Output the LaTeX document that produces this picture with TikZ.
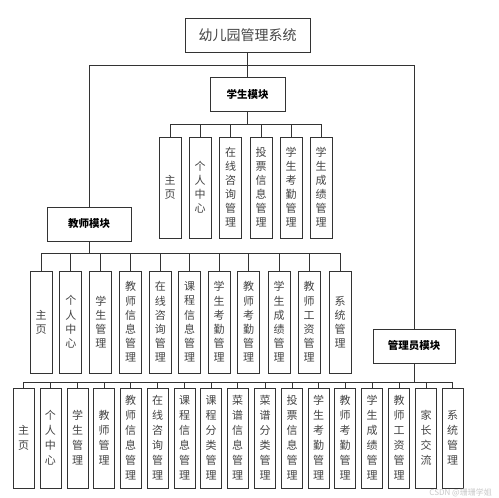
\documentclass[tikz,border=0pt]{standalone}
\usepackage{fontspec}
\newfontfamily\cjk{Noto Sans CJK SC}
\definecolor{ln}{HTML}{333333}
\definecolor{tx}{HTML}{444444}
\definecolor{wm}{HTML}{C8C8C8}
\begin{document}
\begin{tikzpicture}[x=1pt,y=-1pt,
  box/.style={draw=ln, line width=0.9pt, inner sep=0pt, align=center, text=tx},
  rootbox/.style={box, minimum width=125pt, minimum height=34pt, font=\cjk\fontsize{14}{16}\selectfont},
  modbox/.style={box, minimum height=34pt, text=black, font=\cjk\bfseries\fontsize{10.5}{12}\selectfont},
  leafA/.style={box, minimum width=22pt, minimum height=101pt, font=\cjk\fontsize{11}{14}\selectfont},
  leafB/.style={box, minimum width=22pt, minimum height=102pt, font=\cjk\fontsize{11}{14.2}\selectfont},
  leafC/.style={box, minimum width=21pt, minimum height=100pt, font=\cjk\fontsize{11}{15}\selectfont},
  conn/.style={draw=ln, line width=0.9pt}]
\useasboundingbox (0,0) rectangle (499,498);
\fill[white] (0,0) rectangle (499,498);

% root and modules
\node[rootbox] (root) at (247.5,35) {幼儿园管理系统};
\node[modbox, minimum width=75pt] (stu) at (247.5,94.5) {学生模块};
\node[modbox, minimum width=84pt] (tea) at (89,224) {教师模块};
\node[modbox, minimum width=82pt] (adm) at (414,346) {管理员模块};

\coordinate (topbar) at (0,65);
\draw[conn] (root.south) -- (stu.north);
\draw[conn] (tea.north) -- (tea.north |- topbar) -- (adm.north |- topbar) -- (adm.north);

% student leaves
\foreach \i/\x/\t in {1/170/主\\页, 2/200/个\\人\\中\\心, 3/230.5/在\\线\\咨\\询\\管\\理, 4/261/投\\票\\信\\息\\管\\理, 5/291/学\\生\\考\\勤\\管\\理, 6/321/学\\生\\成\\绩\\管\\理}
  \node[leafA] (s\i) at (\x,187.5) {\t};
\coordinate (sbar) at (0,124);
\draw[conn] (stu.south) -- (stu.south |- sbar);
\draw[conn] (s1.north |- sbar) -- (s6.north |- sbar);
\foreach \i in {1,...,6} \draw[conn] (s\i.north) -- (s\i.north |- sbar);

% teacher leaves
\foreach \i/\x/\t in {1/41/主\\页, 2/70.9/个\\人\\中\\心, 3/100.8/学\\生\\管\\理, 4/130.7/教\\师\\信\\息\\管\\理, 5/160.3/在\\线\\咨\\询\\管\\理, 6/189.5/课\\程\\信\\息\\管\\理, 7/219/学\\生\\考\\勤\\管\\理, 8/248.5/教\\师\\考\\勤\\管\\理, 9/279/学\\生\\成\\绩\\管\\理, 10/309/教\\师\\工\\资\\管\\理, 11/340/系\\统\\管\\理}
  \node[leafB] (t\i) at (\x,322) {\t};
\coordinate (tbar) at (0,253);
\draw[conn] (tea.south) -- (tea.south |- tbar);
\draw[conn] (t1.north |- tbar) -- (t11.north |- tbar);
\foreach \i in {1,...,11} \draw[conn] (t\i.north) -- (t\i.north |- tbar);

% admin leaves
\foreach \i/\x/\t in {1/23.5/主\\页, 2/50.5/个\\人\\中\\心, 3/77.5/学\\生\\管\\理, 4/104/教\\师\\管\\理, 5/130.5/教\\师\\信\\息\\管\\理, 6/157.5/在\\线\\咨\\询\\管\\理, 7/184.5/课\\程\\信\\息\\管\\理, 8/211/课\\程\\分\\类\\管\\理, 9/237.5/菜\\谱\\信\\息\\管\\理, 10/265/菜\\谱\\分\\类\\管\\理, 11/292/投\\票\\信\\息\\管\\理, 12/318.5/学\\生\\考\\勤\\管\\理, 13/345/教\\师\\考\\勤\\管\\理, 14/372/学\\生\\成\\绩\\管\\理, 15/399/教\\师\\工\\资\\管\\理, 16/426/家\\长\\交\\流, 17/452.5/系\\统\\管\\理}
  \node[leafC] (a\i) at (\x,438) {\t};
\coordinate (abar) at (0,382);
\draw[conn] (adm.south) -- (adm.south |- abar);
\draw[conn] (a1.north |- abar) -- (a17.north |- abar);
\foreach \i in {1,...,17} \draw[conn] (a\i.north) -- (a\i.north |- abar);

% watermark
\node[text=wm, font=\cjk\fontsize{8}{9}\selectfont, anchor=east, inner sep=0pt] (wmk) at (492,493) {CSDN @珊珊学姐};
\end{tikzpicture}
\end{document}
